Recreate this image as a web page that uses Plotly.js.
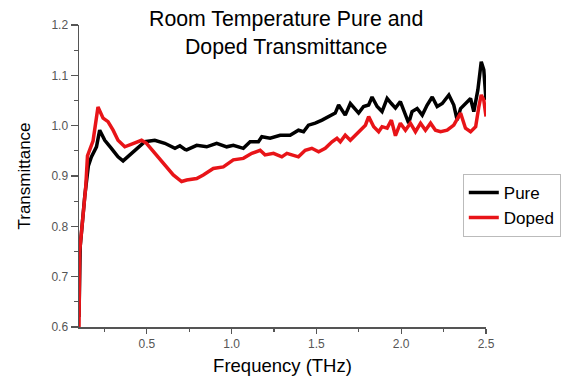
<!DOCTYPE html>
<html>
<head>
<meta charset="utf-8">
<script src="https://cdn.plot.ly/plotly-3.0.1.min.js"></script>
<style>html,body{margin:0;padding:0;background:#fff;}#chart{width:571px;height:382px;}</style>
</head>
<body>
<div id="chart"></div>
<script>
// Frequency (THz) and transmittance for the pure sample
const pureFreq = [0.100, 0.107, 0.134, 0.155, 0.173, 0.203, 0.222, 0.252, 0.291, 0.330, 0.360, 0.400, 0.439, 0.488, 0.547, 0.606, 0.666, 0.695, 0.725, 0.735, 0.794, 0.853, 0.912, 0.971, 1.010, 1.069, 1.109, 1.158, 1.178, 1.227, 1.286, 1.345, 1.394, 1.424, 1.453, 1.493, 1.533, 1.572, 1.611, 1.631, 1.651, 1.670, 1.700, 1.730, 1.749, 1.778, 1.808, 1.828, 1.858, 1.887, 1.917, 1.942, 1.966, 1.995, 2.025, 2.044, 2.064, 2.094, 2.124, 2.153, 2.183, 2.212, 2.242, 2.281, 2.310, 2.330, 2.350, 2.379, 2.409, 2.428, 2.452, 2.472, 2.487, 2.500];
const pureT    = [0.620, 0.760, 0.860, 0.920, 0.938, 0.958, 0.991, 0.971, 0.955, 0.938, 0.930, 0.942, 0.952, 0.968, 0.971, 0.965, 0.955, 0.960, 0.953, 0.952, 0.961, 0.958, 0.965, 0.958, 0.961, 0.955, 0.968, 0.968, 0.978, 0.975, 0.981, 0.981, 0.991, 0.988, 1.001, 1.005, 1.011, 1.018, 1.025, 1.041, 1.031, 1.021, 1.044, 1.031, 1.025, 1.038, 1.041, 1.057, 1.038, 1.028, 1.054, 1.044, 1.035, 1.048, 1.021, 1.005, 1.028, 1.034, 1.021, 1.041, 1.057, 1.038, 1.044, 1.061, 1.041, 1.011, 1.034, 1.044, 1.054, 1.028, 1.071, 1.127, 1.111, 1.051];

// Frequency (THz) and transmittance for the doped sample
const dopedFreq = [0.100, 0.104, 0.140, 0.150, 0.183, 0.212, 0.242, 0.271, 0.301, 0.330, 0.370, 0.419, 0.469, 0.498, 0.547, 0.606, 0.656, 0.705, 0.735, 0.794, 0.833, 0.892, 0.951, 1.010, 1.069, 1.119, 1.168, 1.197, 1.247, 1.296, 1.326, 1.355, 1.394, 1.434, 1.473, 1.513, 1.552, 1.592, 1.621, 1.641, 1.670, 1.700, 1.730, 1.759, 1.789, 1.808, 1.838, 1.867, 1.887, 1.917, 1.942, 1.966, 1.995, 2.025, 2.054, 2.084, 2.114, 2.143, 2.173, 2.202, 2.232, 2.271, 2.310, 2.350, 2.379, 2.409, 2.439, 2.458, 2.472, 2.487, 2.500];
const dopedT    = [0.600, 0.750, 0.880, 0.940, 0.970, 1.037, 1.015, 1.008, 0.991, 0.971, 0.958, 0.965, 0.971, 0.965, 0.945, 0.922, 0.902, 0.889, 0.892, 0.895, 0.902, 0.915, 0.918, 0.932, 0.935, 0.945, 0.951, 0.942, 0.945, 0.938, 0.945, 0.942, 0.938, 0.951, 0.955, 0.948, 0.955, 0.968, 0.975, 0.968, 0.981, 0.971, 0.981, 0.991, 1.001, 1.018, 0.998, 0.988, 0.998, 0.995, 1.011, 0.980, 1.005, 0.991, 1.005, 0.988, 1.005, 0.991, 1.005, 0.991, 0.988, 0.991, 1.001, 1.025, 0.995, 0.988, 0.998, 1.038, 1.061, 1.051, 1.018];

const seriesNames = ["Pure", "Doped"];
const chartTitle = "Room Temperature Pure and<br>Doped Transmittance";
const xTitle = "Frequency (THz)";
const yTitle = "Transmittance";
const xTickVals = [0.5, 1.0, 1.5, 2.0, 2.5];
const xTickText = ["0.5", "1.0", "1.5", "2.0", "2.5"];
const yTickVals = [0.6, 0.7, 0.8, 0.9, 1.0, 1.1, 1.2];
const yTickText = ["0.6", "0.7", "0.8", "0.9", "1.0", "1.1", "1.2"];

const traces = [
  {x: pureFreq, y: pureT, name: seriesNames[0], type: "scatter", mode: "lines",
   line: {color: "#000000", width: 3.5}},
  {x: dopedFreq, y: dopedT, name: seriesNames[1], type: "scatter", mode: "lines",
   line: {color: "#e81418", width: 3.5}}
];

const font = "Liberation Sans, Arial, sans-serif";
const layout = {
  width: 571, height: 382,
  margin: {l: 79, r: 85, t: 25, b: 55, pad: 0, autoexpand: false},
  paper_bgcolor: "#ffffff", plot_bgcolor: "#ffffff",
  font: {family: font, color: "#000"},
  annotations: [{
    text: chartTitle, showarrow: false,
    xref: "paper", x: 0.509, xanchor: "center",
    yref: "paper", y: 0.972, yanchor: "middle",
    font: {family: font, size: 21.3, color: "#000"}, align: "center"
  }],
  xaxis: {
    range: [0.1, 2.5], showgrid: false, zeroline: false,
    showline: true, linecolor: "#555", linewidth: 1.5,
    ticks: "outside", ticklen: 5, tickwidth: 1.3, tickcolor: "#555",
    tickvals: xTickVals, ticktext: xTickText,
    tickfont: {family: font, size: 12, color: "#555"},
    minor: {ticks: "outside", ticklen: 3, tickwidth: 1.2, tickcolor: "#555", dtick: 0.25, tick0: 0, showgrid: false},
    title: {text: xTitle, font: {family: font, size: 18.5, color: "#000"}, standoff: 9}
  },
  yaxis: {
    range: [0.6, 1.2], showgrid: false, zeroline: false,
    showline: true, linecolor: "#555", linewidth: 1.5,
    ticks: "outside", ticklen: 7, tickwidth: 1.3, tickcolor: "#555",
    tickvals: yTickVals, ticktext: yTickText,
    tickfont: {family: font, size: 12, color: "#555"},
    minor: {ticks: "outside", ticklen: 4, tickwidth: 1.2, tickcolor: "#555", dtick: 0.05, tick0: 0, showgrid: false},
    title: {text: yTitle, font: {family: font, size: 17, color: "#000"}, standoff: 16}
  },
  showlegend: true,
  legend: {x: 0.943, xanchor: "left", y: 0.507, yanchor: "top",
           bgcolor: "#ffffff", bordercolor: "#bbbbbb", borderwidth: 1,
           font: {family: font, size: 17, color: "#000"},
           tracegroupgap: 0, itemwidth: 30}
};

Plotly.newPlot("chart", traces, layout, {displayModeBar: false, staticPlot: true});
</script>
</body>
</html>
